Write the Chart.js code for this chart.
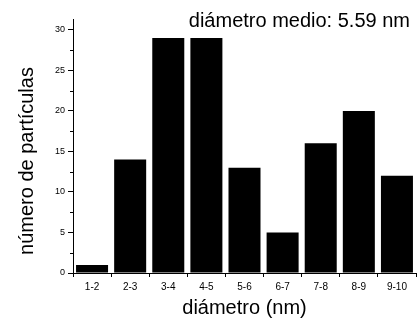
<!DOCTYPE html>
<html>
<head>
<meta charset="utf-8">
<script src="https://cdn.jsdelivr.net/npm/chart.js@4"></script>
<style>
  html, body { margin: 0; padding: 0; background: #fff; }
  canvas { display: block; }
</style>
</head>
<body>
<canvas id="histChart" width="419" height="325"></canvas>
<script>
// Histogram data
const categories = ["1-2", "2-3", "3-4", "4-5", "5-6", "6-7", "7-8", "8-9", "9-10"];
const counts = [1, 14, 29, 29, 13, 5, 16, 20, 12];
const yTicks = [0, 5, 10, 15, 20, 25, 30];
const yMinorTicks = [2.5, 7.5, 12.5, 17.5, 22.5, 27.5];

const headerText = "diámetro medio: 5.59 nm";
const yTitle = "número de partículas";
const xTitle = "diámetro (nm)";

const FONT = "'Liberation Sans', Arial, sans-serif";

// draws the minor y ticks, the header and the y axis title
const extras = {
  id: "extras",
  afterDraw(chart) {
    const ctx = chart.ctx;
    const y = chart.scales.y;
    const left = chart.chartArea.left;

    ctx.save();
    ctx.strokeStyle = "#000";
    ctx.lineWidth = 1;
    yMinorTicks.forEach(v => {
      const py = Math.round(y.getPixelForValue(v)) + 0.5;
      ctx.beginPath();
      ctx.moveTo(left - 3, py);
      ctx.lineTo(left, py);
      ctx.stroke();
    });

    ctx.fillStyle = "#000";
    ctx.font = "20px " + FONT;
    ctx.textAlign = "right";
    ctx.textBaseline = "alphabetic";
    ctx.fillText(headerText, 410, 27);

    ctx.translate(33, 161);
    ctx.rotate(-Math.PI / 2);
    ctx.textAlign = "center";
    ctx.fillText(yTitle, 0, 0);
    ctx.restore();
  }
};

new Chart(document.getElementById("histChart").getContext("2d"), {
  type: "bar",
  data: {
    labels: categories,
    datasets: [{
      data: counts,
      backgroundColor: "#000",
      borderWidth: 0,
      barPercentage: 0.84,
      categoryPercentage: 1
    }]
  },
  options: {
    responsive: false,
    animation: false,
    devicePixelRatio: 1,
    layout: { padding: { top: 19, right: 3, left: 0, bottom: 0 } },
    plugins: {
      legend: { display: false },
      tooltip: { enabled: false }
    },
    scales: {
      x: {
        afterFit: s => { s.height = 52; },
        grid: {
          offset: true,
          drawOnChartArea: false,
          tickLength: 4,
          color: "#000"
        },
        border: { display: true, color: "#000", width: 1 },
        ticks: {
          color: "#000",
          padding: 4,
          font: { family: FONT, size: 10 },
          maxRotation: 0
        },
        title: {
          display: true,
          text: xTitle,
          color: "#000",
          font: { family: FONT, size: 20 },
          padding: { top: 0, bottom: 5 }
        }
      },
      y: {
        min: 0,
        max: 31.35,
        afterFit: s => { s.width = 73; },
        afterBuildTicks: s => { s.ticks = yTicks.map(v => ({ value: v })); },
        grid: {
          drawOnChartArea: false,
          tickLength: 5,
          color: "#000"
        },
        border: { display: true, color: "#000", width: 1 },
        ticks: {
          color: "#000",
          padding: 3,
          font: { family: FONT, size: 9 }
        }
      }
    }
  },
  plugins: [extras]
});
</script>
</body>
</html>
